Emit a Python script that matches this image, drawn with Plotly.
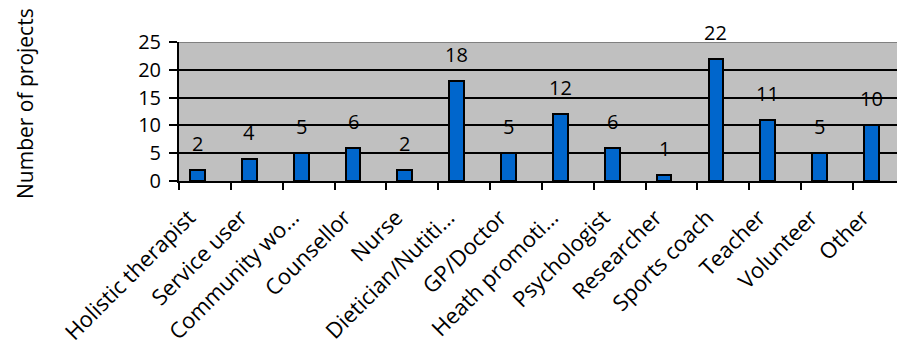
import plotly.graph_objects as go

# Roles involved in the projects and how many projects each appears in
roles = [
    "Holistic therapist", "Service user", "Community wo…", "Counsellor",
    "Nurse", "Dietician/Nutiti…", "GP/Doctor", "Heath promoti…",
    "Psychologist", "Researcher", "Sports coach", "Teacher",
    "Volunteer", "Other",
]
projects = [2, 4, 5, 6, 2, 18, 5, 12, 6, 1, 22, 11, 5, 10]

y_ticks = [0, 5, 10, 15, 20, 25]

FONT = "Open Sans"
FS = 20
BAR_W = 0.286  # bar takes the left slot of a two-slot cluster

PLOT_L, PLOT_R, PLOT_T, PLOT_B = 179, 897, 42, 181

fig = go.Figure()
fig.add_trace(go.Bar(
    x=roles,
    y=projects,
    width=BAR_W,
    offset=-BAR_W,
    marker=dict(color="#0066CC", line=dict(color="black", width=2)),
    hoverinfo="x+y",
    showlegend=False,
))

# value labels above each bar
for r, v in zip(roles, projects):
    fig.add_annotation(
        x=r, y=v, text=str(v), showarrow=False,
        xshift=-7.4, yshift=11, yanchor="bottom",
        font=dict(family=FONT, size=FS, color="black"),
    )

# axis title
fig.add_annotation(
    xref="paper", yref="paper",
    x=(25 - PLOT_L) / (PLOT_R - PLOT_L), y=(PLOT_B - 104) / (PLOT_B - PLOT_T),
    xanchor="center", yanchor="middle",
    text="Number of projects", textangle=-90, showarrow=False,
    font=dict(family=FONT, size=21, color="black"),
)

# plot-area top border in grey
fig.add_shape(type="line", xref="paper", yref="y", x0=0, x1=1, y0=25, y1=25,
              line=dict(color="#808080", width=2))

fig.update_layout(
    width=897, height=360,
    margin=dict(l=PLOT_L, r=897 - PLOT_R, t=PLOT_T, b=360 - PLOT_B),
    paper_bgcolor="white",
    plot_bgcolor="#C0C0C0",
    font=dict(family=FONT, size=FS, color="black"),
    bargap=0,
)
fig.update_xaxes(
    type="category",
    range=[-0.5, 13.35],
    tickangle=-45,
    tickson="boundaries",
    ticks="outside", ticklen=7, tickwidth=2, tickcolor="black",
    ticklabelshift=-16, ticklabelstandoff=13,
    showline=True, linecolor="black", linewidth=2,
    showgrid=False,
    tickfont=dict(family=FONT, size=22),
)
fig.update_yaxes(
    range=[0, 25],
    tickvals=y_ticks,
    ticks="outside", ticklen=8, tickwidth=2, tickcolor="black",
    ticklabelstandoff=4,
    showline=True, linecolor="black", linewidth=2,
    showgrid=True, gridcolor="black", gridwidth=2,
    zeroline=False,
    tickfont=dict(family=FONT, size=FS),
)

fig.write_html("out.html")
